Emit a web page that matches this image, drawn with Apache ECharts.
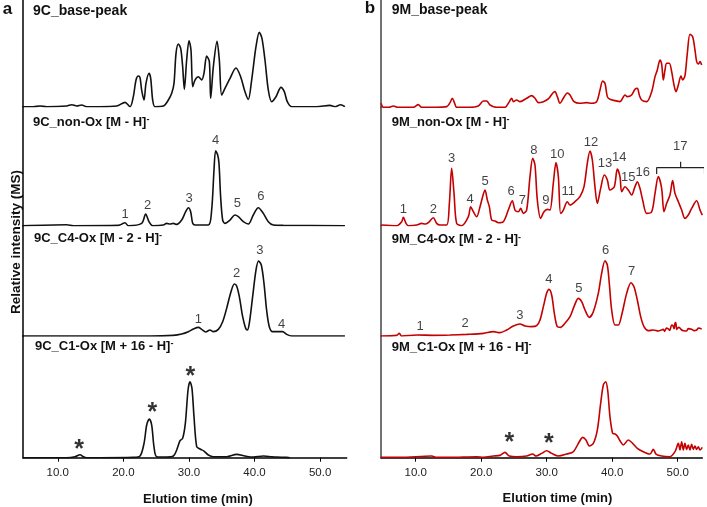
<!DOCTYPE html>
<html><head><meta charset="utf-8">
<script src="https://cdn.jsdelivr.net/npm/echarts@6/dist/echarts.min.js"></script>
<style>html,body{margin:0;padding:0;background:#fff}#c{width:707px;height:507px}</style>
</head><body><div id="c"></div>
<script>
// x tick values (elution time, min)
const xTickValues = [10, 20, 30, 40, 50];

// ---- Panel a (9C) : [time (min), relative intensity]
const a_basePeak = [[4.66,0],[6.28,0],[7.30,2],[8.32,0],[11.36,2],[12.13,6],[12.89,2],[13.65,5],[14.41,0],[16.44,0],[18.98,2],[20.25,13],[21.02,0],[21.52,30],[21.93,80],[22.29,92],[22.54,87],[22.79,50],[23.15,20],[23.45,70],[23.91,100],[24.17,85],[24.47,20],[24.83,0],[26.10,2],[26.86,20],[27.37,40],[27.72,70],[28.03,160],[28.38,188],[28.74,175],[29.04,120],[29.30,52],[29.65,140],[30.01,198],[30.31,170],[30.57,60],[30.92,80],[31.43,90],[31.94,80],[32.29,100],[32.70,152],[33.11,135],[33.31,25],[33.72,120],[34.28,196],[34.63,140],[34.99,35],[35.49,55],[36.26,85],[37.17,116],[37.88,90],[38.54,45],[39.05,22],[39.56,80],[40.22,180],[40.73,223],[41.13,205],[41.59,140],[42.10,50],[42.61,15],[43.27,30],[44.03,58],[44.54,45],[44.99,15],[45.65,0],[49.46,0],[51.50,4],[52.26,0],[53.12,6],[53.78,0]];
const a_nonOx = [[4.66,0],[11.36,3],[12.38,0],[19.24,1],[20.0,7],[20.25,9],[20.76,0],[22.79,7],[23.40,35],[23.91,12],[24.47,0],[26.10,2],[26.60,7],[27.11,5],[27.62,7],[28.13,4],[28.89,17],[29.50,42],[29.91,54],[30.26,42],[30.57,7],[30.92,2],[32.96,2],[33.46,47],[33.82,167],[34.07,225],[34.38,212],[34.58,187],[34.83,87],[35.14,17],[35.49,7],[36.26,17],[37.02,32],[37.53,27],[38.29,12],[39.05,5],[39.81,32],[40.57,54],[41.34,37],[42.10,12],[42.86,2],[44.38,1],[53.78,0]];
const a_c4Ox = [[4.66,0],[24.06,0],[27.62,2],[28.89,6],[29.91,13],[30.67,21],[31.43,26],[31.94,20],[32.55,12],[33.21,18],[33.72,13],[34.48,20],[35.14,43],[35.75,83],[36.41,133],[36.92,156],[37.27,150],[37.68,118],[38.19,58],[38.64,23],[38.90,18],[39.20,38],[39.71,118],[40.22,198],[40.62,225],[41.03,213],[41.44,158],[41.84,78],[42.25,28],[42.76,13],[43.62,13],[44.28,13],[44.89,5],[45.65,0],[53.78,0]];
const a_c1Ox = [[4.66,0],[11.36,0],[12.63,3],[13.40,9],[13.91,3],[14.41,0],[16.44,0],[21.52,1],[22.54,5],[23.15,43],[23.56,98],[23.96,116],[24.32,98],[24.67,33],[25.08,3],[26.60,2],[27.62,5],[28.13,23],[28.64,51],[29.04,58],[29.45,103],[29.86,203],[30.16,228],[30.46,208],[30.77,123],[31.18,33],[31.68,26],[32.29,20],[32.96,8],[33.72,3],[35.75,3],[37.27,10],[38.54,5],[39.81,2],[41.34,5],[42.61,3],[43.37,2],[44.89,1],[45.40,0]];
const a_nonOxLabels = [[20.25,35,'1'],[23.71,60,'2'],[30.01,82,'3'],[34.07,255,'4'],[37.37,67,'5'],[40.98,87,'6']];
const a_c4OxLabels = [[31.43,50,'1'],[37.27,188,'2'],[40.83,256,'3'],[44.13,36,'4']];
const a_c1OxStars = [[13.24,38,'*'],[24.42,150,'*'],[30.21,258,'*']];

// ---- Panel b (9M)
const b_basePeak = [[4.70,12],[5.06,0],[5.82,0],[6.58,4],[7.35,0],[9.64,0],[10.40,8],[10.91,0],[13.20,0],[14.73,2],[15.24,14],[15.59,27],[15.95,12],[16.25,0],[18.29,0],[19.56,4],[20.33,19],[20.83,19],[21.34,7],[22.36,0],[23.63,0],[24.30,17],[24.65,27],[24.91,17],[25.41,22],[25.92,17],[26.94,27],[27.70,35],[28.21,27],[28.72,14],[29.49,17],[30.25,25],[30.91,42],[31.27,47],[31.62,32],[32.03,12],[32.54,27],[33.15,43],[33.56,37],[34.17,17],[35.08,12],[36.10,14],[36.87,12],[37.63,17],[38.14,52],[38.55,79],[38.90,72],[39.26,32],[39.66,24],[40.43,20],[41.19,17],[41.96,37],[42.31,32],[42.97,37],[43.48,54],[43.84,57],[44.14,37],[44.50,22],[45.26,17],[46.03,47],[46.54,92],[46.89,112],[47.30,142],[47.55,130],[47.81,82],[48.06,112],[48.32,132],[48.72,132],[49.08,107],[49.44,67],[49.74,47],[50.10,67],[50.50,94],[50.76,82],[51.11,94],[51.47,162],[51.88,219],[52.29,212],[52.64,172],[52.90,137],[53.15,130],[53.41,137],[53.66,127]];
const b_nonOx = [[4.70,2],[7.09,0],[7.86,12],[8.11,25],[8.52,7],[8.88,0],[10.15,2],[10.91,7],[11.42,5],[11.93,9],[12.69,24],[13.20,7],[13.71,2],[14.73,2],[15.14,67],[15.49,172],[15.85,97],[16.25,7],[17.02,0],[18.04,27],[18.39,57],[18.80,42],[19.31,27],[19.82,57],[20.22,87],[20.58,107],[20.94,77],[21.24,57],[21.60,17],[22.11,14],[22.62,9],[23.38,12],[24.14,47],[24.75,75],[25.16,47],[25.67,42],[26.03,52],[26.43,37],[26.94,47],[27.45,147],[27.86,202],[28.21,182],[28.57,77],[29.08,22],[29.59,42],[30.10,49],[30.50,47],[31.01,127],[31.42,189],[31.78,147],[32.13,37],[32.54,47],[33.15,72],[33.56,62],[34.32,72],[35.08,87],[35.70,117],[36.20,187],[36.61,224],[36.97,197],[37.37,117],[37.73,67],[38.24,112],[38.80,152],[39.26,137],[39.66,107],[40.33,117],[40.78,170],[41.19,147],[41.45,102],[41.96,117],[42.46,107],[42.97,92],[43.48,117],[43.84,132],[44.24,112],[44.65,77],[45.26,37],[46.03,42],[46.54,97],[47.04,147],[47.55,112],[47.91,42],[48.32,67],[48.82,92],[49.23,135],[49.59,97],[50.10,72],[50.61,47],[51.11,22],[51.62,32],[52.13,52],[52.90,75],[53.41,47],[53.76,32]];
const b_c4Ox = [[4.70,0],[7.09,2],[7.50,8],[7.86,0],[10.15,3],[12.69,2],[15.24,3],[17.78,5],[20.33,8],[21.85,13],[22.87,10],[23.89,18],[24.91,30],[25.92,36],[26.69,30],[27.70,28],[28.47,31],[28.98,48],[29.49,88],[29.99,128],[30.35,140],[30.76,123],[31.17,68],[31.62,28],[32.13,26],[32.79,38],[33.56,58],[34.17,88],[34.83,113],[35.34,103],[35.85,78],[36.51,56],[37.12,73],[37.88,128],[38.39,188],[38.90,226],[39.26,213],[39.56,158],[39.92,78],[40.43,33],[40.94,33],[41.45,63],[42.21,128],[42.87,160],[43.33,148],[43.84,108],[44.35,58],[44.86,28],[45.52,16],[46.28,18],[47.04,15],[47.81,20],[48.0,14],[48.3,24],[48.57,21],[48.8,17],[49.08,33],[49.3,30],[49.45,22],[49.59,38],[49.7,40],[49.85,20],[49.95,23],[50.2,26],[50.61,18],[50.9,16],[51.37,15],[51.6,22],[52.13,20],[52.5,16],[52.90,18],[53.2,24],[53.66,21]];
const b_c1Ox = [[4.70,1],[7.60,1],[12.44,5],[13.20,1],[15.24,1],[19.31,3],[20.33,1],[21.85,5],[22.87,7],[23.63,16],[24.30,5],[25.41,3],[26.94,5],[27.86,11],[28.37,5],[29.23,13],[29.99,21],[30.76,13],[31.78,5],[33.05,11],[34.07,18],[34.98,48],[35.49,61],[36.00,53],[36.51,35],[37.12,43],[37.73,83],[38.24,163],[38.65,218],[39.00,228],[39.31,203],[39.66,123],[40.07,73],[40.43,71],[40.78,65],[41.19,51],[41.70,38],[42.46,53],[43.12,43],[43.84,28],[44.75,18],[45.77,11],[46.28,25],[46.69,11],[47.55,5],[48.82,3],[49.59,18],[50.10,43],[50.35,23],[50.61,48],[50.86,23],[51.11,43],[51.37,25],[51.62,38],[51.88,23],[52.13,40],[52.39,25],[52.64,35],[52.90,25],[53.15,33],[53.41,23],[53.76,31]];
const b_nonOxLabels = [[8.11,50,'1'],[12.69,50,'2'],[15.49,202,'3'],[18.29,79,'4'],[20.58,132,'5'],[24.55,102,'6'],[26.28,77,'7'],[28.06,227,'8'],[29.89,77,'9'],[31.62,215,'10'],[33.30,102,'11'],[36.76,250,'12'],[38.90,187,'13'],[41.09,204,'14'],[42.46,145,'15'],[44.65,161,'16'],[50.40,239,'17']];
const b_bracket17 = [[46.79,155],[46.79,174],[54.1,174],[54.1,155]];
const b_bracket17Tick = [[50.45,174],[50.45,192]];
const b_c4OxLabels = [[10.66,28,'1'],[17.53,38,'2'],[25.92,63,'3'],[30.35,170,'4'],[34.93,143,'5'],[38.98,256,'6'],[42.97,193,'7']];
const b_c1OxStars = [[24.30,58,'*'],[30.35,55,'*']];

// ---- layout
const FONT = '"Liberation Sans", Arial, sans-serif';
const panels = [
  {left: 23, width: 323.7, min: 4.7, max: 54.05, color: '#111111', yAxisColor: '#000',
   rows: [
     {top: 0, base: 106.7, yMax: 320, data: a_basePeak},
     {top: 106.7, base: 225.7, yMax: 357, data: a_nonOx, labels: a_nonOxLabels},
     {top: 225.7, base: 336, yMax: 331, data: a_c4Ox, labels: a_c4OxLabels},
     {top: 336, base: 457.7, yMax: 365, data: a_c1Ox, stars: a_c1OxStars}
   ]},
  {left: 381, width: 321.3, min: 4.7, max: 53.76, color: '#c40000', yAxisColor: '#444',
   rows: [
     {top: 0, base: 107.3, yMax: 322, data: b_basePeak},
     {top: 107.3, base: 225.7, yMax: 355, data: b_nonOx, labels: b_nonOxLabels, bracket: [b_bracket17, b_bracket17Tick]},
     {top: 225.7, base: 336, yMax: 331, data: b_c4Ox, labels: b_c4OxLabels},
     {top: 336, base: 457.7, yMax: 365, data: b_c1Ox, stars: b_c1OxStars}
   ]}
];

const grid = [], xAxis = [], yAxis = [], series = [];
let gi = 0;
panels.forEach(p => {
  p.rows.forEach((r, ri) => {
    const last = ri === p.rows.length - 1;
    grid.push({left: p.left, width: p.width, top: r.top, height: r.base - r.top, containLabel: false});
    xAxis.push({
      type: 'value', gridIndex: gi, min: p.min, max: p.max, show: last,
      axisLine: {show: true, onZero: false, lineStyle: {color: '#000', width: 1.5}},
      axisTick: {show: true, length: 4, inside: false, customValues: xTickValues, lineStyle: {color: '#000', width: 1}},
      axisLabel: {show: true, customValues: xTickValues, formatter: v => Number(v).toFixed(1), fontSize: 11.5, color: '#222', margin: 9, fontFamily: FONT},
      splitLine: {show: false}
    });
    yAxis.push({
      type: 'value', gridIndex: gi, min: 0, max: r.yMax,
      axisLine: {show: true, lineStyle: {color: p.yAxisColor, width: 1.5}},
      axisTick: {show: false}, axisLabel: {show: false}, splitLine: {show: false}
    });
    series.push({
      type: 'line', xAxisIndex: gi, yAxisIndex: gi, data: r.data, symbol: 'none', showSymbol: false,
      smooth: 0.3, lineStyle: {color: p.color, width: 1.6}, z: 3
    });
    if (r.labels) {
      series.push({
        type: 'scatter', xAxisIndex: gi, yAxisIndex: gi, data: r.labels, symbolSize: 1,
        itemStyle: {color: 'transparent'}, silent: true,
        label: {show: true, position: 'inside', formatter: q => q.data[2], color: '#111', fontSize: 13, fontFamily: FONT}
      });
    }
    if (r.stars) {
      series.push({
        type: 'scatter', xAxisIndex: gi, yAxisIndex: gi, data: r.stars, symbolSize: 1,
        itemStyle: {color: 'transparent'}, silent: true,
        label: {show: true, position: 'inside', formatter: q => q.data[2], color: '#000', fontSize: 25, fontWeight: 'bold', fontFamily: FONT, offset: [0, 5]}
      });
    }
    if (r.bracket) {
      r.bracket.forEach(b => series.push({
        type: 'line', xAxisIndex: gi, yAxisIndex: gi, data: b, symbol: 'none', clip: false,
        lineStyle: {color: '#222', width: 1.2}
      }));
    }
    gi++;
  });
});

function title(text, x, y, sup, size) {
  const t = sup ? '{m|' + text + '}{s|-}' : '{m|' + text + '}';
  return {type: 'text', x: x, y: y, z: 10, style: {
    text: t, textVerticalAlign: 'middle', verticalAlign: 'middle', fill: '#111',
    rich: {m: {fontSize: size || 13, fontWeight: 'bold', fontFamily: FONT, fill: '#111'},
           s: {fontSize: 9, fontWeight: 'bold', fontFamily: FONT, verticalAlign: 'top', fill: '#111'}}
  }};
}

const graphic = [
  {type: 'text', x: 7.5, y: 9, style: {text: 'a', font: 'bold 17px ' + FONT, textAlign: 'center', textVerticalAlign: 'middle', fill: '#111'}},
  {type: 'text', x: 370, y: 8, style: {text: 'b', font: 'bold 17px ' + FONT, textAlign: 'center', textVerticalAlign: 'middle', fill: '#111'}},
  title('9C_base-peak', 33, 11, false, 14),
  title('9C_non-Ox [M - H]', 33, 122, true),
  title('9C_C4-Ox [M - 2 - H]', 34, 238, true),
  title('9C_C1-Ox [M + 16 - H]', 35, 346, true),
  title('9M_base-peak', 391.7, 10.5, false, 14),
  title('9M_non-Ox [M - H]', 391.7, 122, true),
  title('9M_C4-Ox [M - 2 - H]', 391.7, 239.5, true),
  title('9M_C1-Ox [M + 16 - H]', 391.7, 347, true),
  {type: 'text', x: 16.5, y: 242, rotation: Math.PI / 2, style: {text: 'Relative intensity (MS)', font: 'bold 13.5px ' + FONT, textAlign: 'center', textVerticalAlign: 'middle', fill: '#111'}},
  {type: 'text', x: 198, y: 499, style: {text: 'Elution time (min)', font: 'bold 13px ' + FONT, textAlign: 'center', textVerticalAlign: 'middle', fill: '#111'}},
  {type: 'text', x: 557.5, y: 498, style: {text: 'Elution time (min)', font: 'bold 13px ' + FONT, textAlign: 'center', textVerticalAlign: 'middle', fill: '#111'}}
];

const chart = echarts.init(document.getElementById('c'), null, {renderer: 'canvas'});
chart.setOption({animation: false, backgroundColor: '#fff', grid, xAxis, yAxis, series, graphic});
</script></body></html>
